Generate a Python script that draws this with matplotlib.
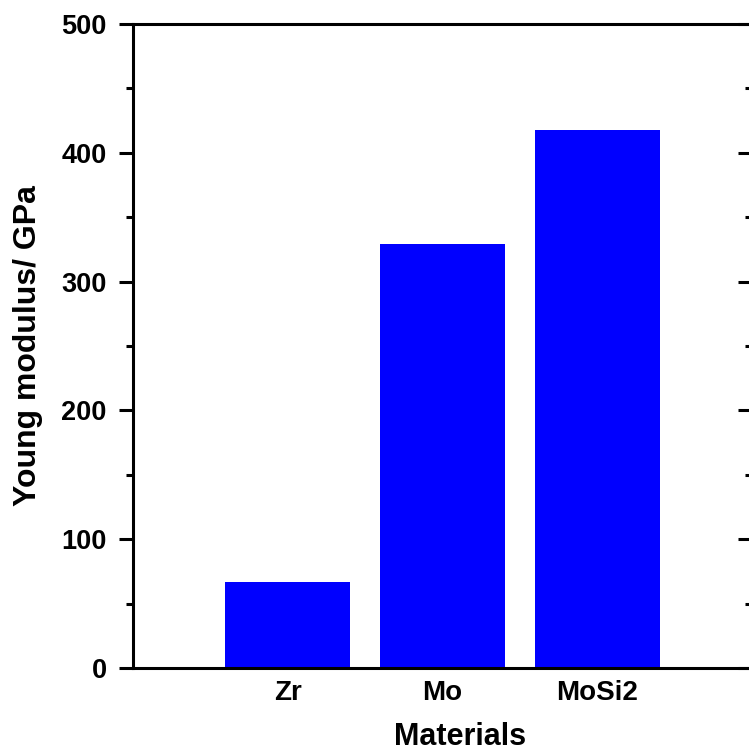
import matplotlib
matplotlib.use("Agg")
import matplotlib.pyplot as plt
from matplotlib.lines import TICKLEFT
from matplotlib.ticker import MultipleLocator

materials = ["Zr", "Mo", "MoSi2"]
young_modulus = [67, 329, 418]

plt.rcParams['font.family'] = ['Liberation Sans', 'DejaVu Sans']
plt.rcParams['font.weight'] = 'bold'

fig = plt.figure(figsize=(7.49, 7.55), dpi=100)
ax = fig.add_axes([133 / 749, 87 / 755, 619 / 749, 644 / 755])

pos = list(range(1, len(materials) + 1))
ax.bar(pos, young_modulus, width=0.81, color='#0000ff')

ax.set_xlim(0, 4)
ax.set_ylim(0, 500)
ax.set_xticks(pos, labels=materials)
ax.yaxis.set_major_locator(MultipleLocator(100))
ax.yaxis.set_minor_locator(MultipleLocator(50))

for s in ax.spines.values():
    s.set_linewidth(2.2)

ax.tick_params(axis='x', length=0, labelsize=20, pad=9)
ax.tick_params(axis='y', which='major', length=10, width=2.2, labelsize=19.5,
               direction='out', right=True, pad=9)
ax.tick_params(axis='y', which='minor', length=5, width=2.2,
               direction='out', right=True)
# right side ticks point inward
for t in ax.yaxis.get_major_ticks() + ax.yaxis.get_minor_ticks():
    t.tick2line.set_marker(TICKLEFT)

ax.set_ylabel("Young modulus/ GPa", fontsize=23, fontweight='bold', labelpad=13)
ax.set_xlabel("Materials", fontsize=22, fontweight='bold', labelpad=11)
ax.xaxis.label.set_x(0.528)

fig.savefig("out.png", dpi=100)
